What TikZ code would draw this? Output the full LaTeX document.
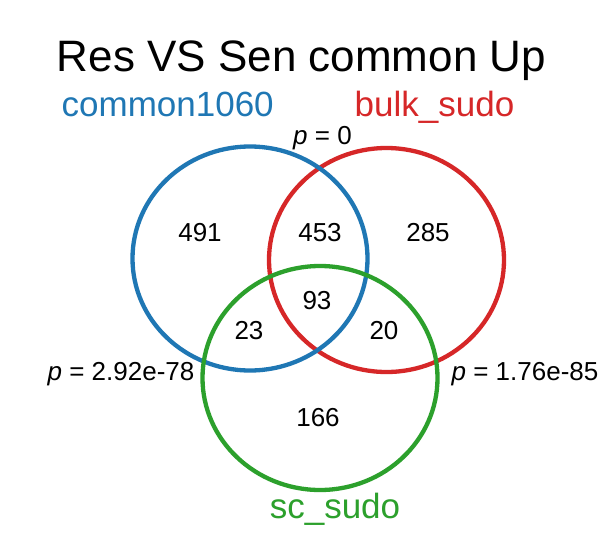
\documentclass[tikz,border=0pt]{standalone}
\usepackage{fontspec}
\setmainfont{Liberation Sans}
\definecolor{vblue}{RGB}{31,119,180}
\definecolor{vred}{RGB}{214,39,40}
\definecolor{vgreen}{RGB}{44,160,44}
\begin{document}
\begin{tikzpicture}[x=1pt,y=-1pt,
  ring/.style={line width=4.3pt},
  num/.style={font=\fontsize{26}{26}\selectfont, anchor=base, inner sep=0pt},
  pval/.style={font=\fontsize{26}{26}\selectfont, anchor=base, inner sep=0pt},
  setlabel/.style={font=\fontsize{35}{35}\selectfont, anchor=base, inner sep=0pt},
  titlestyle/.style={font=\fontsize{44}{44}\selectfont, anchor=base, inner sep=0pt}]
\useasboundingbox (0,0) rectangle (614,538);
\fill[white] (0,0) rectangle (614,538);
% circles
\draw[ring, vred]   (386.5,260) ellipse [x radius=117.5pt, y radius=112pt];
\draw[ring, vblue]  (250,258.5) ellipse [x radius=117.5pt, y radius=112pt];
\draw[ring, vgreen] (320,378)   ellipse [x radius=117.5pt, y radius=112pt];
% title and set labels
\node[titlestyle] (title) at (301.5,71) {Res VS Sen common Up};
\node[setlabel, text=vblue] (lblA) at (167.7,116) {common1060};
\node[setlabel, text=vred] (lblB) at (434.5,116) {bulk\_sudo};
\node[setlabel, text=vgreen] (lblC) at (335,518) {sc\_sudo};
% p values
\node[pval] (pAB) at (322.5,144) {\textit{p} = 0};
\node[pval] (pAC) at (121,380) {\textit{p} = 2.92e-78};
\node[pval] (pBC) at (525,380) {\textit{p} = 1.76e-85};
% counts
\node[num] (nA) at (200,241) {491};
\node[num] (nAB) at (320,241) {453};
\node[num] (nB) at (428,241) {285};
\node[num] (nABC) at (317,309) {93};
\node[num] (nAC) at (249,339) {23};
\node[num] (nBC) at (384,339) {20};
\node[num] (nC) at (318,426) {166};
\end{tikzpicture}
\end{document}
